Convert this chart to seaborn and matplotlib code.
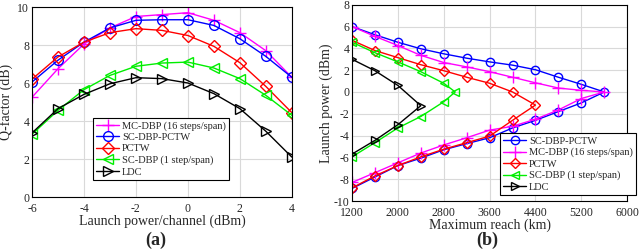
import numpy as np
import pandas as pd
import seaborn as sns
import matplotlib.pyplot as plt

# (a) Q-factor vs launch power
power_a = [-6, -5, -4, -3, -2, -1, 0, 1, 2, 3, 4]
q_mcdbp = [5.25, 6.75, 8.05, 8.9, 9.5, 9.6, 9.7, 9.3, 8.65, 7.7, 6.3]
q_scdbp_pctw = [6.05, 7.2, 8.15, 8.9, 9.3, 9.33, 9.33, 9.03, 8.33, 7.4, 6.3]
q_pctw = [6.2, 7.37, 8.15, 8.65, 8.86, 8.77, 8.5, 7.93, 7.07, 5.82, 4.44]
q_scdbp = [3.3, 4.56, 5.65, 6.4, 6.88, 7.05, 7.1, 6.79, 6.23, 5.35, 4.3]
q_ldc = [3.37, 4.65, 5.4, 5.96, 6.28, 6.23, 6.0, 5.44, 4.65, 3.46, 2.1]

# (b) launch power vs maximum reach (path goes out along the top, back along the bottom)
reach_scdbp_pctw = [1200, 1600, 2000, 2400, 2800, 3200, 3600, 4000, 4400, 4800, 5200, 5600,
                    5200, 4800, 4400, 4000, 3600, 3200, 2800, 2400, 2000, 1600, 1200]
lp_scdbp_pctw = [6.0, 5.25, 4.56, 3.96, 3.5, 3.1, 2.76, 2.46, 2.04, 1.35, 0.7, 0.0,
                 -1.0, -1.8, -2.6, -3.3, -4.2, -4.74, -5.3, -6.07, -6.75, -7.8, -8.85]
reach_mcdbp = [1200, 1600, 2000, 2400, 2800, 3200, 3600, 4000, 4400, 4800, 5200, 5600,
               5200, 4800, 4400, 4000, 3600, 3200, 2800, 2400, 2000, 1600, 1200]
lp_mcdbp = [6.0, 5.1, 4.26, 3.36, 2.7, 2.3, 1.86, 1.35, 0.84, 0.36, 0.15, 0.0,
            -0.6, -1.65, -2.5, -3.15, -3.5, -4.2, -4.86, -5.6, -6.5, -7.4, -8.3]
reach_pctw = [1200, 1600, 2000, 2400, 2800, 3200, 3600, 4000, 4400,
              4000, 3600, 3200, 2800, 2400, 2000, 1600, 1200]
lp_pctw = [4.74, 3.8, 3.15, 2.5, 1.95, 1.35, 0.8, 0.0, -1.2,
           -2.6, -4.05, -4.65, -5.25, -5.95, -6.75, -7.7, -8.8]
reach_scdbp = [1200, 1600, 2000, 2400, 2800, 3000, 2800, 2400, 2000, 1600, 1200]
lp_scdbp = [4.56, 3.6, 2.76, 1.86, 0.8, 0.0, -0.9, -2.25, -3.3, -4.65, -5.95]
reach_ldc = [1200, 1600, 2000, 2400, 2000, 1600, 1200]
lp_ldc = [3.0, 1.95, 0.6, -1.26, -3.0, -4.44, -5.7]

sns.set_style("whitegrid")
plt.rcParams['font.family'] = ['Liberation Serif', 'DejaVu Serif']
plt.rcParams['axes.unicode_minus'] = False
plt.rcParams['axes.edgecolor'] = 'black'
plt.rcParams['grid.color'] = '#d9d9d9'
plt.rcParams['grid.linewidth'] = 0.8

fig = plt.figure(figsize=(6.4, 2.5), dpi=100)
ax1 = fig.add_axes([0.05, 0.212, 0.406, 0.76])
ax2 = fig.add_axes([0.55, 0.196, 0.43, 0.785])


def draw(ax, x, y, color, marker, label, ms=7):
    sns.lineplot(x=x, y=y, ax=ax, color=color, marker=marker, markersize=ms,
                 markerfacecolor='none', markeredgecolor=color, markeredgewidth=1,
                 linewidth=1, sort=False, estimator=None, label=label)


draw(ax1, power_a, q_mcdbp, 'magenta', '+', 'MC-DBP (16 steps/span)', 9)
draw(ax1, power_a, q_scdbp_pctw, 'blue', 'o', 'SC-DBP-PCTW')
draw(ax1, power_a, q_pctw, 'red', 'D', 'PCTW', 6)
draw(ax1, power_a, q_scdbp, '#00ee00', '<', 'SC-DBP (1 step/span)')
draw(ax1, power_a, q_ldc, 'black', '>', 'LDC')

draw(ax2, reach_scdbp_pctw, lp_scdbp_pctw, 'blue', 'o', 'SC-DBP-PCTW', 6)
draw(ax2, reach_mcdbp, lp_mcdbp, 'magenta', '+', 'MC-DBP (16 steps/span)', 8)
draw(ax2, reach_pctw, lp_pctw, 'red', 'D', 'PCTW', 5)
draw(ax2, reach_scdbp, lp_scdbp, '#00ee00', '<', 'SC-DBP (1 step/span)', 6)
draw(ax2, reach_ldc, lp_ldc, 'black', '>', 'LDC', 6)

ax1.set_xlim(-6, 4)
ax1.set_ylim(0, 10)
ax1.set_xticks(range(-6, 5, 2))
ax1.set_yticks(range(0, 11, 2))
ax1.set_xlabel('Launch power/channel (dBm)', fontsize=10, labelpad=0)
ax1.set_ylabel('Q-factor (dB)', fontsize=10, labelpad=3)

ax2.set_xlim(1200, 6000)
ax2.set_ylim(-10, 8)
ax2.set_xticks(range(1200, 6001, 800))
ax2.set_yticks(range(-10, 9, 2))
ax2.set_xlabel('Maximum reach (km)', fontsize=10, labelpad=0)
ax2.set_ylabel('Launch power (dBm)', fontsize=10, labelpad=0)

for ax in (ax1, ax2):
    ax.tick_params(labelsize=8.5, direction='in', length=3, pad=2)
    ax.tick_params(axis='x', pad=4)
    for s in ax.spines.values():
        s.set_linewidth(0.8)

leg_kw = dict(fontsize=7.5, frameon=True, fancybox=False, edgecolor='black',
              framealpha=1, handlelength=2.2, borderpad=0.3, labelspacing=0.2,
              handletextpad=0.3, borderaxespad=0)
leg1 = ax1.legend(loc='upper left', bbox_to_anchor=(0.235, 0.416), **leg_kw)
leg2 = ax2.legend(loc='upper left', bbox_to_anchor=(0.538, 0.345), **leg_kw)
for leg in (leg1, leg2):
    leg.get_frame().set_linewidth(0.8)

fig.text(0.244, 0.04, '(a)', fontsize=13, fontweight='bold', ha='center', va='center')
fig.text(0.761, 0.04, '(b)', fontsize=13, fontweight='bold', ha='center', va='center')

fig.savefig('out.png', dpi=100)
